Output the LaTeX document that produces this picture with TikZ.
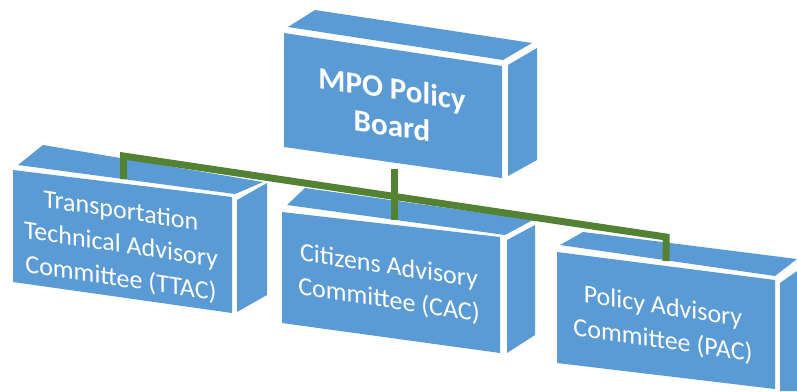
\documentclass[tikz,border=0pt]{standalone}
\usepackage{fontspec}
\setmainfont{Carlito}
\definecolor{boxblue}{HTML}{5B9BD5}
\definecolor{linkgreen}{HTML}{548235}
\begin{document}
\begin{tikzpicture}[x=1pt,y=1pt,
  face/.style={fill=boxblue, draw=none},
  lbl/.style={text=white, align=center, inner sep=0pt, yslant=-0.15, transform shape,
    font=\fontsize{26}{34}\selectfont},
  toplbl/.style={lbl, font=\fontsize{31}{37}\selectfont\bfseries},
  link/.style={draw=linkgreen, line width=7pt, line join=miter}]
\useasboundingbox (0,0) rectangle (797,-391);
% MPO box
\fill[face] (284,-33) -- (502,-66) -- (502,-178) -- (284,-147) -- cycle;
\fill[face] (288,-27) -- (315,-10) -- (532,-43) -- (503,-60) -- cycle;
\fill[face] (508,-65) -- (537,-48) -- (537,-160) -- (508,-176) -- cycle;
% TTAC box
\fill[face] (13,-170) -- (232,-197) -- (232,-313) -- (13,-282) -- cycle;
\fill[face] (18,-165) -- (43,-145) -- (263,-182) -- (235,-194) -- cycle;
\fill[face] (237,-200) -- (267,-183) -- (267,-295) -- (237,-312) -- cycle;
% CAC box
\fill[face] (282,-212) -- (500,-237) -- (500,-353) -- (282,-323) -- cycle;
\fill[face] (287,-205) -- (305,-188) -- (533,-220) -- (505,-235) -- cycle;
\fill[face] (507,-240) -- (535,-225) -- (535,-335) -- (507,-353) -- cycle;
% PAC box
\fill[face] (557,-252) -- (775,-280) -- (775,-389) -- (557,-363) -- cycle;
\fill[face] (560,-245) -- (583,-232) -- (797,-259) -- (775,-276) -- cycle;
\fill[face] (780,-283) -- (797,-271) -- (797,-391) -- (780,-391) -- cycle;
% connector points
\coordinate (mpobot) at (394.5,-169);
\coordinate (cactop) at (394.5,-220);
\coordinate (ttactop) at (123.5,-179);
\coordinate (lbend) at (123.5,-156);
\coordinate (rbend) at (666,-237);
\coordinate (pactop) at (666,-261);
\draw[link] (ttactop) -- (lbend) -- (rbend) -- (pactop);
\draw[link] (mpobot) -- (cactop);
% labels
\node[toplbl] (mpo) at (392,-107) {MPO Policy\\Board};
\node[lbl] (ttac) at (121,-245.5) {Transportation\\Technical Advisory\\Committee (TTAC)};
\node[lbl] (cac) at (389,-284) {Citizens Advisory\\Committee (CAC)};
\node[lbl] (pac) at (663,-324.5) {Policy Advisory\\Committee (PAC)};
\end{tikzpicture}
\end{document}
